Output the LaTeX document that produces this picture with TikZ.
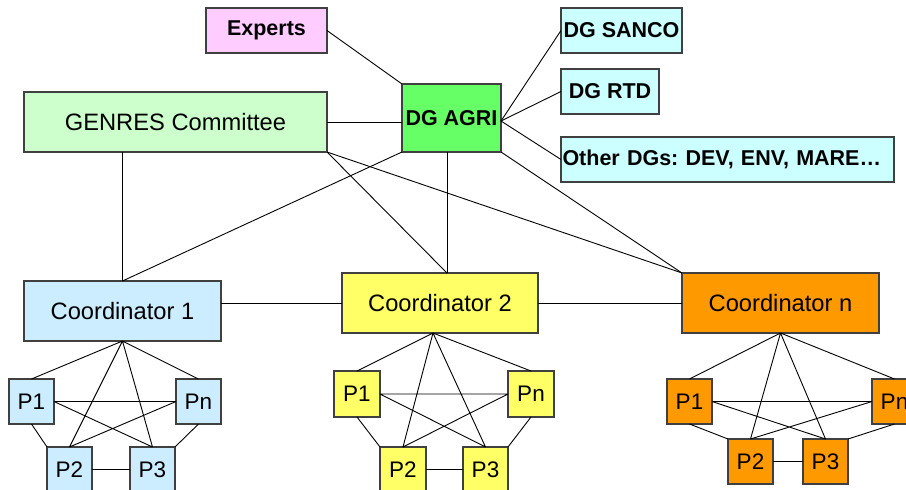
\documentclass[tikz,border=0pt]{standalone}
\usepackage{fontspec}
\setmainfont{Liberation Sans}
\frenchspacing
\definecolor{cpink}{HTML}{FFCCFF}
\definecolor{cgreenl}{HTML}{CCFFCC}
\definecolor{cgreen}{HTML}{66FF66}
\definecolor{ccyan}{HTML}{CCFFFF}
\definecolor{cblue}{HTML}{CCECFF}
\definecolor{cyel}{HTML}{FFFF66}
\definecolor{corange}{HTML}{FF9900}
\definecolor{cborder}{HTML}{404040}
\tikzset{
  box/.style={draw=cborder, line width=1.1pt, rectangle, inner sep=0pt, outer sep=0pt, text=black},
  bigbox/.style={box, font=\fontsize{23.7}{28}\selectfont},
  boldbox/.style={box, font=\fontsize{21.5}{25}\selectfont\bfseries\frenchspacing, minimum height=45pt},
  pbox/.style={box, minimum width=45pt, minimum height=45pt, font=\fontsize{22.5}{26}\selectfont},
  conn/.style={draw=black, line width=0.9pt},
}
\newcommand\pcluster[2]{%
  \path[conn] (#2) -- (#1P1.north) (#2) -- (#1P2.north) (#2) -- (#1P3.north) (#2) -- (#1Pn.north)
    (#1P1.east) -- (#1Pn.west) (#1P1.east) -- (#1P3.north) (#1Pn.west) -- (#1P2.north)
    (#1P1.south) -- (#1P2.north west) (#1Pn.south) -- (#1P3.north east) (#1P2.east) -- (#1P3.west);}
\begin{document}
\begin{tikzpicture}[x=1pt,y=-1pt]
\useasboundingbox (0,0) rectangle (906,490);
\clip (0,0) rectangle (906,490);
% top nodes
\node[boldbox, fill=cpink, minimum width=121pt] (exp) at (266.5,30.5) {Experts};
\node[bigbox, fill=cgreenl, minimum width=303pt, minimum height=60pt] (gen) at (175.5,122) {GENRES Committee};
\node[boldbox, fill=cgreen, minimum width=99pt, minimum height=68pt] (agri) at (451.5,118) {DG AGRI};
\node[boldbox, fill=ccyan, minimum width=121pt] (sanco) at (621.5,30.5) {DG SANCO};
\node[boldbox, fill=ccyan, minimum width=98pt] (rtd) at (610,91.5) {DG RTD};
\node[boldbox, fill=ccyan, inner xsep=1.5pt, text width=330pt, align=left] (oth) at (727.5,159.5) {Other DGs: DEV, ENV, MARE…};
% coordinators
\node[bigbox, fill=cblue, minimum width=197pt, minimum height=60pt] (c1) at (122.5,311) {Coordinator 1};
\node[bigbox, fill=cyel, minimum width=196pt, minimum height=60pt] (c2) at (440,303) {Coordinator 2};
\node[bigbox, fill=corange, minimum width=197pt, minimum height=60pt] (cn) at (780.5,303) {Coordinator n};
\coordinate (c2t) at (447,273);
\coordinate (c2b) at (433,333);
% cluster 1
\node[pbox, fill=cblue] (aP1) at (31.5,401.5) {P1};
\node[pbox, fill=cblue] (aPn) at (198.5,401.5) {Pn};
\node[pbox, fill=cblue] (aP2) at (69.5,469.5) {P2};
\node[pbox, fill=cblue] (aP3) at (152.5,469.5) {P3};
% cluster 2
\node[pbox, fill=cyel, minimum width=46pt, minimum height=46pt] (bP1) at (357,394) {P1};
\node[pbox, fill=cyel, minimum width=46pt, minimum height=46pt] (bPn) at (531,394) {Pn};
\node[pbox, fill=cyel, minimum width=46pt] (bP2) at (403,469.5) {P2};
\node[pbox, fill=cyel] (bP3) at (485.5,469.5) {P3};
% cluster n
\node[pbox, fill=corange] (cP1) at (689.5,401.5) {P1};
\node[pbox, fill=corange] (cPn) at (894.5,401.5) {Pn};
\node[pbox, fill=corange] (cP2) at (750.5,461.5) {P2};
\node[pbox, fill=corange] (cP3) at (825.5,461.5) {P3};
% connectors (top)
\path[conn] (exp.east) -- (agri.north west);
\path[conn] (gen.east) -- (gen.east -| agri.west);
\path[conn] ([yshift=-3pt]agri.east) -- (sanco.west);
\path[conn] ([yshift=-3pt]agri.east) -- (rtd.west);
\path[conn] ([yshift=-3pt]agri.east) -- (oth.west);
\path[conn] (agri.south west) -- (c1.north);
\path[conn] (c1.north) -- (c1.north |- gen.south);
\path[conn] (gen.south east) -- (c2t);
\path[conn] (c2t |- agri.south) -- (c2t);
\path[conn] (gen.south east) -- (cn.north west);
\path[conn] (agri.south east) -- (cn.north west);
\path[conn] (c2.west -| c1.east) -- (c2.west);
\path[conn] (c2.east) -- (cn.west);
\pcluster{a}{c1.south}
\pcluster{b}{c2b}
\pcluster{c}{cn.south}
\end{tikzpicture}
\end{document}
